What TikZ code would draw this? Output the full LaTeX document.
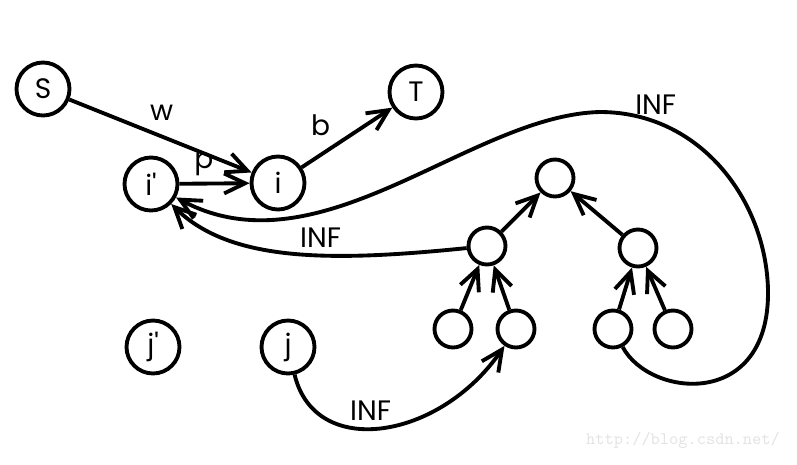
\documentclass[tikz,border=0pt]{standalone}
\usepackage{fontspec}
\setmainfont{Poppins}
\usetikzlibrary{arrows.meta}

\begin{document}
\begin{tikzpicture}[x=0.02cm,y=-0.02cm,->,>={Straight Barb[length=0.42cm,width=0.4cm]},
      line width=2.2pt,auto,
      main node/.style={circle,draw,minimum size=1.06cm,inner sep=0pt,font=\fontsize{16}{18}\selectfont},
      tree node/.style={circle,draw,minimum size=0.74cm,inner sep=0pt},
      lbl/.style={font=\fontsize{16}{18}\selectfont}]
      \useasboundingbox (0,0) rectangle (797,464);
      \node[main node] (s) at (43,89) {S};
      \node[main node] (t) at (416,92) {T};
      \node[main node] (ip) at (151,184) {i\textquotesingle};
      \node[main node] (i) at (278,183) {i};
      \node[main node] (jp) at (153,347) {j\textquotesingle};
      \node[main node] (j) at (288,347) {j};
      \node[tree node] (root) at (555,178) {};
      \node[tree node] (lc) at (487,246) {};
      \node[tree node] (rc) at (638,248) {};
      \node[tree node] (l1) at (453,329) {};
      \node[tree node] (l2) at (516,329) {};
      \node[tree node] (l3) at (613,329) {};
      \node[tree node] (l4) at (673,329) {};
      \node[text=gray!22,font=\ttfamily\fontsize{10}{12}\selectfont] (mark) at (683,440) {http://blog.csdn.net/};

      \path[every node/.style=lbl]
        (s) edge node[pos=0.4] {w} (i)
        (ip) edge node[pos=0.35] {p} (i)
        (i) edge node[pos=0.4] {b} (t)
        (lc) edge (root)
        (rc) edge (root)
        (l1) edge (lc)
        (l2) edge (lc)
        (l3) edge (rc)
        (l4) edge (rc);

      \draw (lc) .. controls (330,262) and (230,262) .. node[lbl,above,pos=0.4] {INF} (ip);
      \draw (l3) .. controls (650,398) and (770,410) .. (768,290)
        .. controls (766,200) and (700,112) .. node[lbl,above,pos=0.8] {INF} (600,112)
        .. controls (470,115) and (320,275) .. (ip);
      \draw (j) .. controls (315,460) and (440,440) .. node[lbl,above,pos=0.45] {INF} (l2);
    \end{tikzpicture}
\end{document}
